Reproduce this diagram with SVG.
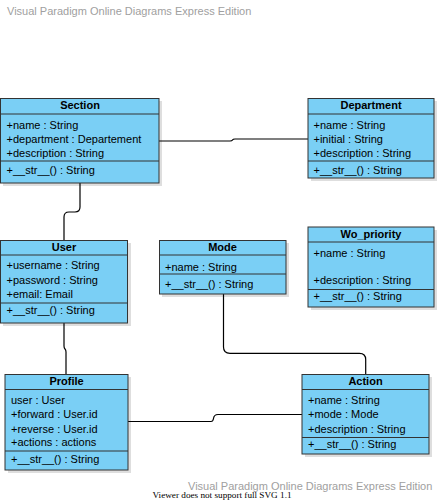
<svg xmlns="http://www.w3.org/2000/svg" width="442" height="500" viewBox="0 0 442 500">
<style>
.box{fill:#7ACFF5;stroke:#333333;stroke-width:1}
.shadow{fill:#000000;fill-opacity:0.13}
.sep{stroke:#333333;stroke-width:1}
.title{font-family:"Liberation Sans",Arial,sans-serif;font-size:11px;font-weight:bold;fill:#000000;text-anchor:middle}
.attr{font-family:"Liberation Sans",Arial,sans-serif;font-size:11px;fill:#000000}
.conn{fill:none;stroke:#000000;stroke-width:1.2}
.wm{font-family:"Liberation Sans",Arial,sans-serif;font-size:11px;fill:#a0a0a0}
.viewer{font-family:"Liberation Serif","Times New Roman",serif;font-size:9.2px;fill:#000000}
</style>
<rect x="0" y="0" width="442" height="500" fill="#ffffff"/>
<text class="wm" x="7" y="15">Visual Paradigm Online Diagrams Express Edition</text>

<g id="connectors">
<path class="conn" d="M159,141 H230 Q232,141 232.5,140 Q233,139 235,139 H308"/>
<path class="conn" d="M80,183 V207 Q80,212 75,212 H69 Q64,212 64,217 V240"/>
<path class="conn" d="M64,323 V346 Q64,348 65,349 Q66,350 66,352 V374"/>
<path class="conn" d="M223.5,294 V347 Q223.5,353.3 230,353.3 H359.5 Q365.7,353.3 365.7,359.5 V374"/>
<path class="conn" d="M128,421.5 H211 Q213,421.5 213.5,418.5 Q214,414.5 218,414.5 H302"/>
</g>

<g id="Section">
<rect class="shadow" x="3" y="101" width="159" height="85"/>
<rect class="box" x="0.5" y="98.5" width="158.5" height="84.5"/>
<line class="sep" x1="0.5" y1="114" x2="159" y2="114"/>
<line class="sep" x1="0.5" y1="161" x2="159" y2="161"/>
<text class="title" x="80" y="109">Section</text>
<text class="attr" x="6.5" y="128.5">+name : String</text>
<text class="attr" x="6.5" y="142.5">+department : Departement</text>
<text class="attr" x="6.5" y="157">+description : String</text>
<text class="attr" x="6.5" y="173.5">+__str__() : String</text>
</g>

<g id="Department">
<rect class="shadow" x="311" y="101" width="126" height="80"/>
<rect class="box" x="308" y="98.5" width="126" height="79.5"/>
<line class="sep" x1="308" y1="114" x2="434" y2="114"/>
<line class="sep" x1="308" y1="161" x2="434" y2="161"/>
<text class="title" x="371" y="109">Department</text>
<text class="attr" x="313.5" y="128.5">+name : String</text>
<text class="attr" x="313.5" y="142.5">+initial : String</text>
<text class="attr" x="313.5" y="157">+description : String</text>
<text class="attr" x="313.5" y="173.5">+__str__() : String</text>
</g>

<g id="User">
<rect class="shadow" x="3" y="243" width="128" height="83"/>
<rect class="box" x="0.5" y="240.5" width="127" height="82.5"/>
<line class="sep" x1="0.5" y1="255" x2="127.5" y2="255"/>
<line class="sep" x1="0.5" y1="303" x2="127.5" y2="303"/>
<text class="title" x="64" y="251">User</text>
<text class="attr" x="6.5" y="269">+username : String</text>
<text class="attr" x="6.5" y="284">+password : String</text>
<text class="attr" x="6.5" y="298">+email: Email</text>
<text class="attr" x="6.5" y="314">+__str__() : String</text>
</g>

<g id="Mode">
<rect class="shadow" x="162" y="243" width="127" height="54"/>
<rect class="box" x="159.5" y="240.5" width="126.5" height="53.5"/>
<line class="sep" x1="159.5" y1="255" x2="286" y2="255"/>
<line class="sep" x1="159.5" y1="274" x2="286" y2="274"/>
<text class="title" x="222.5" y="251">Mode</text>
<text class="attr" x="165" y="270.5">+name : String</text>
<text class="attr" x="165" y="287.5">+__str__() : String</text>
</g>

<g id="Wo_priority">
<rect class="shadow" x="311" y="230" width="126" height="80"/>
<rect class="box" x="308" y="227" width="126" height="80"/>
<line class="sep" x1="308" y1="242" x2="434" y2="242"/>
<line class="sep" x1="308" y1="289.5" x2="434" y2="289.5"/>
<text class="title" x="371" y="237.5">Wo_priority</text>
<text class="attr" x="313.5" y="256.5">+name : String</text>
<text class="attr" x="313.5" y="284">+description : String</text>
<text class="attr" x="313.5" y="300">+__str__() : String</text>
</g>

<g id="Profile">
<rect class="shadow" x="8" y="377" width="123" height="96"/>
<rect class="box" x="5" y="374.5" width="123" height="95.5"/>
<line class="sep" x1="5" y1="389.5" x2="128" y2="389.5"/>
<line class="sep" x1="5" y1="451" x2="128" y2="451"/>
<text class="title" x="66.5" y="385">Profile</text>
<text class="attr" x="11" y="404">user : User</text>
<text class="attr" x="11" y="418">+forward : User.id</text>
<text class="attr" x="11" y="432.5">+reverse : User.id</text>
<text class="attr" x="11" y="446">+actions : actions</text>
<text class="attr" x="11" y="463">+__str__() : String</text>
</g>

<g id="Action">
<rect class="shadow" x="305" y="377" width="127" height="80"/>
<rect class="box" x="302" y="374.5" width="127" height="79.5"/>
<line class="sep" x1="302" y1="389.5" x2="429" y2="389.5"/>
<line class="sep" x1="302" y1="437.5" x2="429" y2="437.5"/>
<text class="title" x="365.5" y="385">Action</text>
<text class="attr" x="308" y="404">+name : String</text>
<text class="attr" x="308" y="418">+mode : Mode</text>
<text class="attr" x="308" y="432.5">+description : String</text>
<text class="attr" x="308" y="447.5">+__str__() : String</text>
</g>

<text class="wm" x="188" y="490">Visual Paradigm Online Diagrams Express Edition</text>
<text class="viewer" x="152.5" y="497.5">Viewer does not support full SVG 1.1</text>
</svg>
